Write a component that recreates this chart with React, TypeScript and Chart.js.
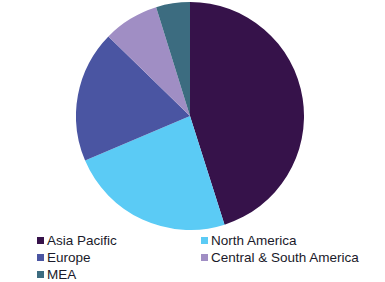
import React, { useEffect, useRef } from "react";
import { Chart, registerables } from "chart.js";

Chart.register(...registerables);

const regions = ["Asia Pacific", "North America", "Europe", "Central & South America", "MEA"];
const shares = [45.1, 23.5, 18.7, 7.9, 4.8];
const colors = ["#36124A", "#5BCBF5", "#4A55A2", "#A08EC4", "#3C6C80"];

// legend positions (column x, row y centre)
const legendCols = [37, 201];
const legendRows = [240, 257, 274];

export default function App() {
  const ref = useRef<HTMLCanvasElement | null>(null);

  useEffect(() => {
    document.body.style.margin = "0";
    const chart = new Chart(ref.current!, {
      type: "pie",
      data: {
        labels: regions,
        datasets: [
          {
            data: shares,
            backgroundColor: colors,
            borderWidth: 0,
          },
        ],
      },
      options: {
        responsive: false,
        animation: false,
        layout: { padding: 0 },
        plugins: { legend: { display: false }, tooltip: { enabled: false } },
      },
    });
    return () => chart.destroy();
  }, []);

  return (
    <div style={{ position: "relative", width: 385, height: 282, background: "#fff", overflow: "hidden" }}>
      <canvas
        ref={ref}
        width={228}
        height={228}
        style={{ position: "absolute", left: 76, top: 2, width: 228, height: 228 }}
      />
      {regions.map((r, i) => {
        const x = legendCols[i % 2];
        const y = legendRows[Math.floor(i / 2)];
        return (
          <div
            key={r}
            style={{
              position: "absolute",
              left: x,
              top: y - 9,
              height: 18,
              display: "flex",
              alignItems: "center",
              fontFamily: "'Liberation Sans', Arial, sans-serif",
              fontSize: 13.5,
              color: "#1a1a2a",
              whiteSpace: "nowrap",
            }}
          >
            <span style={{ display: "inline-block", width: 7, height: 7, background: colors[i], marginRight: 3 }} />
            <span>{r}</span>
          </div>
        );
      })}
    </div>
  );
}
